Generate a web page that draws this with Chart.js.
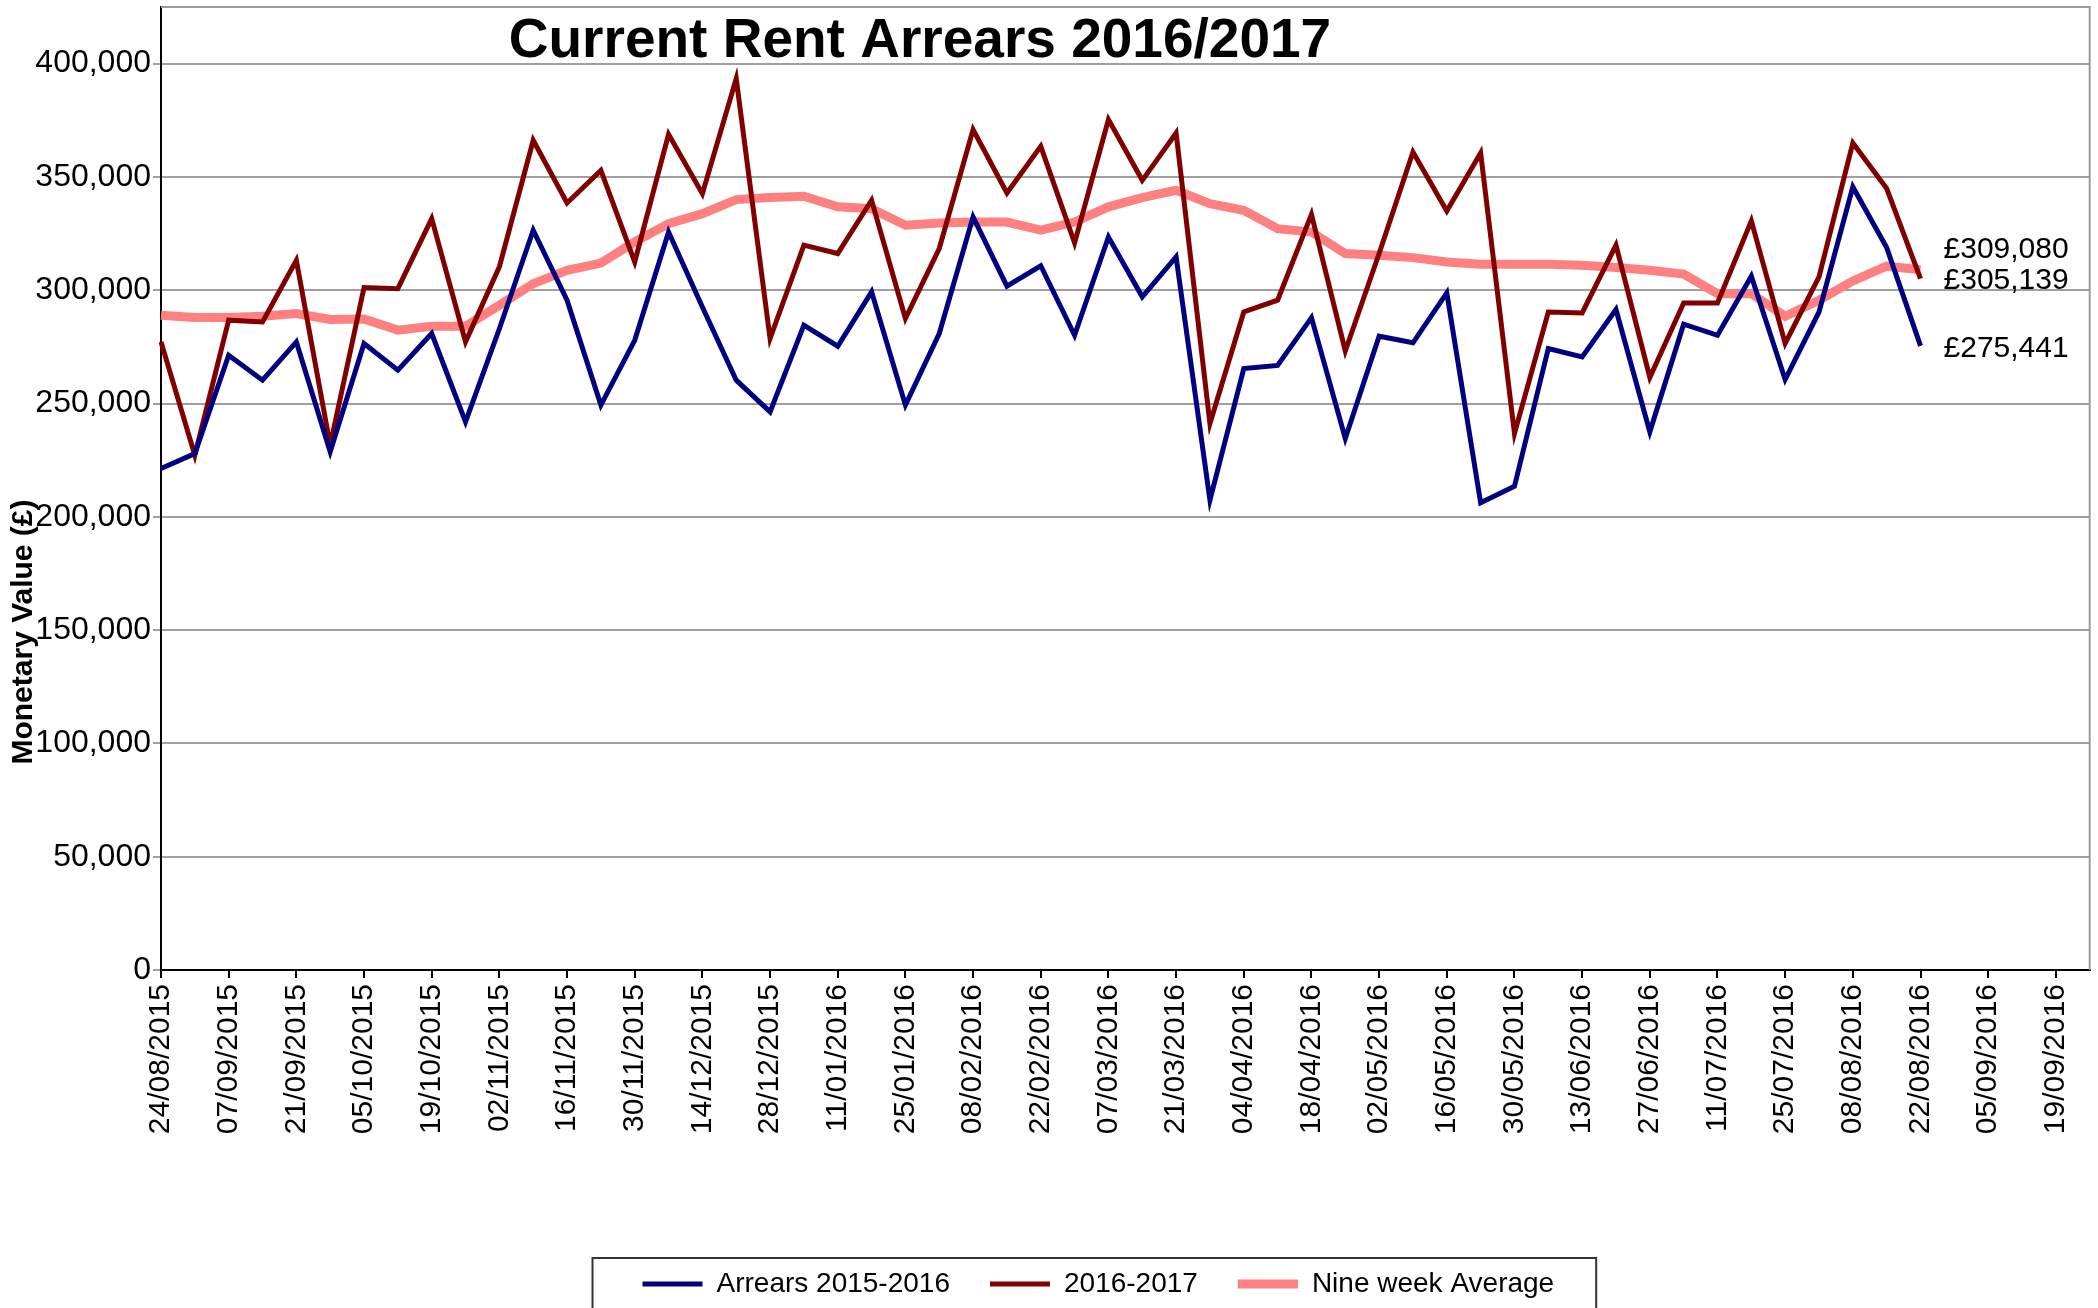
<!DOCTYPE html>
<html>
<head>
<meta charset="utf-8">
<script src="https://cdn.jsdelivr.net/npm/chart.js@4.4.0/dist/chart.umd.min.js"></script>
<style>
  body { margin: 0; background: #fff; }
  #wrap { width: 2098px; height: 1308px; position: relative; }
</style>
</head>
<body>
<div id="wrap"><canvas id="chart-arrears"></canvas></div>
<script>
const FONT = "'Liberation Sans', Arial, sans-serif";

// weekly dates, labels shown every other week
const weeks = [
  '24/08/2015', '31/08/2015', '07/09/2015', '14/09/2015', '21/09/2015', '28/09/2015',
  '05/10/2015', '12/10/2015', '19/10/2015', '26/10/2015', '02/11/2015', '09/11/2015',
  '16/11/2015', '23/11/2015', '30/11/2015', '07/12/2015', '14/12/2015', '21/12/2015',
  '28/12/2015', '04/01/2016', '11/01/2016', '18/01/2016', '25/01/2016', '01/02/2016',
  '08/02/2016', '15/02/2016', '22/02/2016', '29/02/2016', '07/03/2016', '14/03/2016',
  '21/03/2016', '28/03/2016', '04/04/2016', '11/04/2016', '18/04/2016', '25/04/2016',
  '02/05/2016', '09/05/2016', '16/05/2016', '23/05/2016', '30/05/2016', '06/06/2016',
  '13/06/2016', '20/06/2016', '27/06/2016', '04/07/2016', '11/07/2016', '18/07/2016',
  '25/07/2016', '01/08/2016', '08/08/2016', '15/08/2016', '22/08/2016', '29/08/2016',
  '05/09/2016', '12/09/2016', '19/09/2016', '26/09/2016'
];

const arrears2015 = [
  221300, 227900, 271300, 260300, 277200, 228700, 276500, 264700, 280900, 241900,
  283000, 326500, 295600, 249300, 277900, 325700, 292600, 260300, 246300, 284600,
  275300, 299300, 249300, 280900, 332400, 301800, 310800, 280100, 323500, 297100,
  314700, 207400, 265400, 266800, 287900, 234600, 279700, 276800, 298800, 206200,
  213500, 274300, 270600, 291500, 237500, 285000, 280100, 306200, 260600, 290400,
  345600, 318800, 275441
];

const arrears2016 = [
  277200, 227200, 286800, 286000, 313200, 231600, 301200, 300700, 331600, 277200,
  310300, 366200, 338500, 352900, 312500, 368800, 342600, 393400, 278700, 319900,
  316200, 339700, 287500, 318400, 370900, 342900, 363500, 320900, 375300, 348500,
  369400, 241200, 290400, 295600, 333500, 273200, 316200, 361000, 335000, 360600,
  236800, 290400, 290000, 319900, 261500, 294400, 294400, 330600, 276500, 305900,
  365000, 344900, 305139
];

const nineWeekAvg = [
  289000, 288000, 288000, 288500, 289700, 287100, 287300, 282400, 284100, 284100,
  293400, 302900, 308800, 312000, 321300, 329400, 333800, 340000, 340900, 341500,
  336800, 336000, 328700, 329700, 330100, 330100, 326500, 330100, 336800, 340900,
  344100, 338200, 335300, 327200, 325700, 316200, 315400, 314400, 312500, 311500,
  311500, 311500, 311000, 310000, 308800, 307100, 298500, 298500, 288500, 295600,
  304100, 310600, 309080
];

const seriesNames = ['Arrears 2015-2016', '2016-2017', 'Nine week Average'];
const yTicks = [0, 50000, 100000, 150000, 200000, 250000, 300000, 350000, 400000];

const fmt = (v) => v.toString().replace(/\B(?=(\d{3})+(?!\d))/g, ',');

// title, axis title, end labels, frame and legend box
const extras = {
  id: 'extras',
  afterLayout(chart) {
    // legend sits a little left of the plot centre
    chart.legend.left -= 27;
    chart.legend.right -= 27;
  },
  beforeDatasetsDraw(chart) {
    const {ctx, chartArea: a} = chart;
    ctx.save();
    ctx.strokeStyle = '#9a9a9a';
    ctx.lineWidth = 2;
    ctx.beginPath();
    ctx.moveTo(a.left, a.top);
    ctx.lineTo(a.right, a.top);
    ctx.lineTo(a.right, a.bottom);
    ctx.stroke();
    ctx.restore();
  },
  afterDraw(chart) {
    const {ctx} = chart;
    ctx.save();
    ctx.fillStyle = '#000';

    ctx.font = 'bold 55px ' + FONT;
    ctx.textAlign = 'center';
    ctx.textBaseline = 'alphabetic';
    ctx.fillText('Current Rent Arrears 2016/2017', chart.width * 0.4385, 57);

    ctx.save();
    ctx.translate(24, 632);
    ctx.rotate(-Math.PI / 2);
    ctx.font = 'bold 30px ' + FONT;
    ctx.textBaseline = 'middle';
    ctx.fillText('Monetary Value (£)', 0, 0);
    ctx.restore();

    // values at the end of each line
    ctx.font = '30px ' + FONT;
    ctx.textAlign = 'left';
    ctx.textBaseline = 'middle';
    const offsets = [3, 2, -20];
    chart.data.datasets.forEach((ds, i) => {
      const meta = chart.getDatasetMeta(i);
      const last = ds.data.length - 1;
      const pt = meta.data[last];
      ctx.fillText('£' + fmt(ds.data[last]), pt.x + 23, pt.y + offsets[i]);
    });

    const lg = chart.legend;
    if (lg && lg.legendHitBoxes.length) {
      const boxes = lg.legendHitBoxes;
      const l = Math.min(...boxes.map(b => b.left));
      const r = Math.max(...boxes.map(b => b.left + b.width));
      const cy = boxes[0].top + boxes[0].height / 2;
      ctx.strokeStyle = '#333';
      ctx.lineWidth = 2;
      ctx.strokeRect(l - 50, cy - 26, (r - l) + 92, 60);
    }
    ctx.restore();
  }
};

new Chart(document.getElementById('chart-arrears'), {
  type: 'line',
  data: {
    labels: weeks,
    datasets: [{
      label: seriesNames[0],
      data: arrears2015,
      borderColor: '#000080',
      backgroundColor: '#000080',
      borderWidth: 5
    }, {
      label: seriesNames[1],
      data: arrears2016,
      borderColor: '#800000',
      backgroundColor: '#800000',
      borderWidth: 5
    }, {
      label: seriesNames[2],
      data: nineWeekAvg,
      borderColor: '#ff8080',
      backgroundColor: '#ff8080',
      borderWidth: 9
    }]
  },
  options: {
    responsive: true,
    maintainAspectRatio: false,
    animation: false,
    elements: {
      point: { radius: 0, hoverRadius: 0 },
      line: { tension: 0, borderJoinStyle: 'miter' }
    },
    layout: { padding: { top: 7, right: 8, left: 0, bottom: 0 } },
    scales: {
      x: {
        offset: false,
        grid: { display: true, drawOnChartArea: false, drawTicks: true, tickLength: 8, color: '#000', lineWidth: 2 },
        border: { display: true, color: '#000', width: 2 },
        ticks: {
          autoSkip: false,
          minRotation: 90,
          maxRotation: 90,
          padding: 6,
          color: '#000',
          font: { family: FONT, size: 30 },
          callback: function (val, i) {
            return i % 2 === 0 ? this.getLabelForValue(val) : null;
          }
        },
        afterFit: (scale) => { scale.height = 260; }
      },
      y: {
        min: 0,
        max: 425000,
        grid: { color: '#a0a0a0', lineWidth: 2, tickLength: 8, drawTicks: true },
        border: { display: true, color: '#000', width: 2 },
        afterBuildTicks: (scale) => {
          scale.ticks = yTicks.map(v => ({ value: v }));
        },
        ticks: {
          padding: 2,
          color: '#000',
          font: { family: FONT, size: 32 },
          callback: (v) => fmt(v)
        },
        afterFit: (scale) => {
          scale.width = 161;
          scale.paddingTop = 0;
          scale.paddingBottom = 0;
        }
      }
    },
    plugins: {
      title: { display: false },
      tooltip: { enabled: false },
      legend: {
        display: true,
        position: 'bottom',
        fullSize: false,
        labels: {
          usePointStyle: true,
          pointStyle: 'line',
          pointStyleWidth: 60,
          padding: 40,
          color: '#000',
          font: { family: FONT, size: 28 }
        }
      }
    }
  },
  plugins: [extras]
});
</script>
</body>
</html>
